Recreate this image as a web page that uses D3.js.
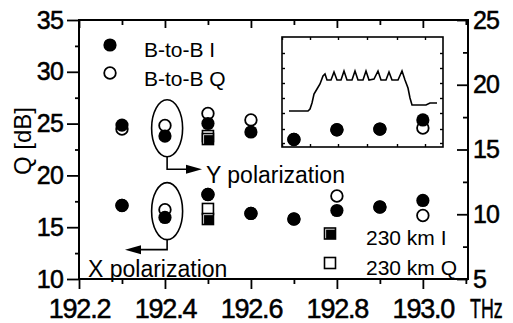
<!DOCTYPE html>
<html>
<head>
<meta charset="utf-8">
<script src="https://cdn.jsdelivr.net/npm/d3@7"></script>
<style>
  body { margin: 0; background: #fff; }
  svg { display: block; }
  text { font-family: "Liberation Sans", Arial, sans-serif; fill: #000; }
  .tk text { stroke: #000; stroke-width: 0.5px; }
</style>
</head>
<body>
<div id="chart"></div>
<script>
// carrier frequencies (THz)
const freqs = [192.3, 192.4, 192.5, 192.6, 192.7, 192.8, 192.9, 193.0];

// back-to-back, Y polarization (upper group), Q [dB]
const yPolI = [24.86, 23.80, 25.01, 24.19, 23.47, 24.40, 24.47, 25.35];
const yPolQ = [24.48, 24.82, 25.98, 25.35, 23.47, 24.40, 24.47, 24.57];
// back-to-back, X polarization (lower group)
const xPolI = [17.10, 15.94, 18.16, 16.33, 15.79, 16.61, 16.95, 17.58];
const xPolQ = [17.10, 16.69, 18.16, 16.33, 15.79, 18.01, 16.95, 16.13];

// after 230 km
const kmFreqs = [192.5];
const kmYI = [23.51];
const kmYQ = [23.80];
const kmXI = [15.79];
const kmXQ = [16.76];

// axis ticks
const xMajor = [192.2, 192.4, 192.6, 192.8, 193.0];
const xMinor = [192.3, 192.5, 192.7, 192.9, 193.1];
const yLMajor = [10, 15, 20, 25, 30, 35];
const yLMinor = [12.5, 17.5, 22.5, 27.5, 32.5];
const yRMajor = [5, 10, 15, 20, 25];
const yRMinor = [7.5, 12.5, 17.5, 22.5];

// inset spectrum (arbitrary units)
const insetTrace = [
  [7, 36], [26, 36], [28, 38], [30, 44], [32, 53], [35, 58], [38, 63], [41, 71],
  [43, 73], [45, 67], [49, 67], [52, 75], [55, 67], [59, 67], [62, 76], [65, 67],
  [70, 67], [73, 76], [76, 67], [81, 67], [84, 76], [87, 67], [92, 68], [96, 76],
  [99, 67], [104, 67], [107, 75], [110, 67], [116, 67], [120, 76], [123, 67],
  [126, 59], [128, 49], [130, 42], [144, 42], [148, 44], [155, 44]
];
const insetXTicks = [0, 28, 56, 85, 115, 143];
const insetYTicks = [4, 18, 34, 49, 64, 79, 94];

const W = 513, H = 323;
const mLeft = 79, mRight = 468, mTop = 20, mBottom = 279;

const svg = d3.select('#chart').append('svg')
    .attr('width', W)
    .attr('height', H);

const x = d3.scaleLinear().domain([192.2, 193.105]).range([mLeft, mRight]);
const yL = d3.scaleLinear().domain([10, 35]).range([mBottom, mTop]);
const yR = d3.scaleLinear().domain([5, 25]).range([mBottom, mTop]);

function styleAxis(g, size) {
  g.select('.domain').remove();
  g.selectAll('line').attr('stroke', '#000').attr('stroke-width', 1.8);
  g.attr('font-size', size);
}

// bottom axis
svg.append('g').attr('class', 'tk')
    .attr('transform', 'translate(0,' + mBottom + ')')
    .call(d3.axisBottom(x).tickValues(xMajor).tickSize(10).tickPadding(9.5).tickFormat(d3.format('.1f')))
    .call(g => styleAxis(g, 27))
    .selectAll('text').attr('letter-spacing', -1.2);
svg.append('g')
    .attr('transform', 'translate(0,' + mBottom + ')')
    .call(d3.axisBottom(x).tickValues(xMinor).tickSize(5).tickFormat(''))
    .call(g => styleAxis(g, 10));
svg.append('g').attr('class', 'tk')
    .attr('transform', 'translate(470,317.5) scale(0.66,1)')
    .append('text')
    .attr('font-size', 27)
    .text('THz');

// top axis (inward ticks)
svg.append('g')
    .attr('transform', 'translate(0,' + mTop + ')')
    .call(d3.axisTop(x).tickValues(xMajor).tickSize(-8).tickFormat(''))
    .call(g => styleAxis(g, 10));
svg.append('g')
    .attr('transform', 'translate(0,' + mTop + ')')
    .call(d3.axisTop(x).tickValues(xMinor).tickSize(-5).tickFormat(''))
    .call(g => styleAxis(g, 10));

// left axis
svg.append('g').attr('class', 'tk')
    .attr('transform', 'translate(' + mLeft + ',0)')
    .call(d3.axisLeft(yL).tickValues(yLMajor).tickSize(12).tickPadding(4))
    .call(g => styleAxis(g, 25))
    .selectAll('text').attr('letter-spacing', -0.8);
svg.append('g')
    .attr('transform', 'translate(' + mLeft + ',0)')
    .call(d3.axisLeft(yL).tickValues(yLMinor).tickSize(4).tickFormat(''))
    .call(g => styleAxis(g, 10));

// right axis (inward ticks)
svg.append('g').attr('class', 'tk')
    .attr('transform', 'translate(' + mRight + ',0)')
    .call(d3.axisRight(yR).tickValues(yRMajor).tickSize(-11).tickPadding(5))
    .call(g => styleAxis(g, 25))
    .selectAll('text').attr('letter-spacing', -0.8);
svg.append('g')
    .attr('transform', 'translate(' + mRight + ',0)')
    .call(d3.axisRight(yR).tickValues(yRMinor).tickSize(-5).tickFormat(''))
    .call(g => styleAxis(g, 10));

// frame
svg.append('rect')
    .attr('x', mLeft).attr('y', mTop)
    .attr('width', mRight - mLeft).attr('height', mBottom - mTop)
    .attr('fill', 'none').attr('stroke', '#000').attr('stroke-width', 2);

// y title
svg.append('text')
    .attr('transform', 'translate(31,141) rotate(-90)')
    .attr('text-anchor', 'middle')
    .attr('font-size', 24)
    .text('Q [dB]');

// inset
const ix = d3.scaleLinear().domain([0, 161]).range([282, 443]);
const iy = d3.scaleLinear().domain([0, 110]).range([147, 37]);
const inset = svg.append('g');
inset.append('rect')
    .attr('x', ix(0)).attr('y', iy(110))
    .attr('width', ix(161) - ix(0)).attr('height', iy(0) - iy(110))
    .attr('fill', '#fff').attr('stroke', '#000').attr('stroke-width', 1.6);
inset.append('g').attr('transform', 'translate(0,' + iy(0) + ')')
    .call(d3.axisBottom(ix).tickValues(insetXTicks).tickSize(-3).tickFormat(''))
    .call(g => styleAxis(g, 10));
inset.append('g').attr('transform', 'translate(0,' + iy(110) + ')')
    .call(d3.axisTop(ix).tickValues(insetXTicks).tickSize(-3).tickFormat(''))
    .call(g => styleAxis(g, 10));
inset.append('g').attr('transform', 'translate(' + ix(0) + ',0)')
    .call(d3.axisLeft(iy).tickValues(insetYTicks).tickSize(-3).tickFormat(''))
    .call(g => styleAxis(g, 10));
inset.append('g').attr('transform', 'translate(' + ix(161) + ',0)')
    .call(d3.axisRight(iy).tickValues(insetYTicks).tickSize(-3).tickFormat(''))
    .call(g => styleAxis(g, 10));
inset.selectAll('line').attr('stroke-width', 1.4);
inset.append('path')
    .datum(insetTrace)
    .attr('fill', 'none').attr('stroke', '#000').attr('stroke-width', 1.6)
    .attr('d', d3.line().x(d => ix(d[0])).y(d => iy(d[1])));

// ellipses + arrows
const ellipses = [[192.405, 24.55], [192.405, 16.55]];
svg.selectAll('ellipse.mark')
    .data(ellipses)
    .enter().append('ellipse')
    .attr('cx', d => x(d[0])).attr('cy', d => yL(d[1]))
    .attr('rx', 15.5).attr('ry', 28.5)
    .attr('fill', 'none').attr('stroke', '#000').attr('stroke-width', 1.6);

function arrow(cx, y0, y1, xEnd, dir) {
  const headStart = xEnd - dir * 16;
  svg.append('path')
      .attr('d', 'M' + cx + ',' + y0 + 'V' + y1 + 'H' + headStart)
      .attr('fill', 'none').attr('stroke', '#000').attr('stroke-width', 1.6);
  svg.append('path')
      .attr('d', 'M' + headStart + ',' + (y1 - 4.5) + 'L' + xEnd + ',' + y1 + 'L' + headStart + ',' + (y1 + 4.5) + 'Z')
      .attr('fill', '#000');
}
const ex = x(ellipses[0][0]);
arrow(ex, yL(ellipses[0][1]) + 28.5, yL(ellipses[0][1]) + 41, 202, 1);
arrow(ex, yL(ellipses[1][1]) + 28.5, yL(ellipses[1][1]) + 38.5, 125, -1);
svg.append('text').attr('x', 206).attr('y', 182.5).attr('font-size', 23).text('Y polarization');
svg.append('text').attr('x', 88).attr('y', 276.5).attr('font-size', 23).text('X polarization');

// markers
const R = 6.6;
function openCircles(vals) {
  svg.append('g').selectAll('circle')
      .data(freqs.map((f, i) => [f, vals[i]]))
      .enter().append('circle')
      .attr('cx', d => x(d[0])).attr('cy', d => yL(d[1])).attr('r', R - 0.8)
      .attr('fill', '#fff').attr('stroke', '#000').attr('stroke-width', 1.8);
}
function filledCircles(vals) {
  svg.append('g').selectAll('circle')
      .data(freqs.map((f, i) => [f, vals[i]]))
      .enter().append('circle')
      .attr('cx', d => x(d[0])).attr('cy', d => yL(d[1])).attr('r', R)
      .attr('fill', '#000');
}
const S = 11;
function openSquare(g, cx, cy) {
  g.append('rect').attr('x', cx - S / 2).attr('y', cy - S / 2).attr('width', S).attr('height', S)
      .attr('fill', '#fff').attr('stroke', '#000').attr('stroke-width', 1.6);
}
function filledSquare(g, cx, cy) {
  openSquare(g, cx, cy);
  g.append('rect').attr('x', cx - S / 2 + 1.6).attr('y', cy - S / 2 + 1.6)
      .attr('width', S - 1.6).attr('height', S - 1.6).attr('fill', '#000');
}
const sq = svg.append('g');
[kmYQ, kmXQ].forEach(vals => kmFreqs.forEach((f, i) => openSquare(sq, x(f), yL(vals[i]))));
[kmYI, kmXI].forEach(vals => kmFreqs.forEach((f, i) => filledSquare(sq, x(f), yL(vals[i]))));

openCircles(yPolQ);
openCircles(xPolQ);
filledCircles(yPolI);
filledCircles(xPolI);

// legends
svg.append('circle').attr('cx', 110).attr('cy', 45).attr('r', R).attr('fill', '#000');
svg.append('circle').attr('cx', 110).attr('cy', 73).attr('r', R - 0.8)
    .attr('fill', '#fff').attr('stroke', '#000').attr('stroke-width', 1.8);
svg.append('text').attr('x', 144).attr('y', 56.5).attr('font-size', 21).text('B-to-B I');
svg.append('text').attr('x', 144).attr('y', 86).attr('font-size', 21).text('B-to-B Q');

const lg = svg.append('g');
filledSquare(lg, 330, 233.5);
openSquare(lg, 330, 263);
svg.append('text').attr('x', 366).attr('y', 245).attr('font-size', 21).text('230 km I');
svg.append('text').attr('x', 366).attr('y', 275).attr('font-size', 21).text('230 km Q');
</script>
</body>
</html>
